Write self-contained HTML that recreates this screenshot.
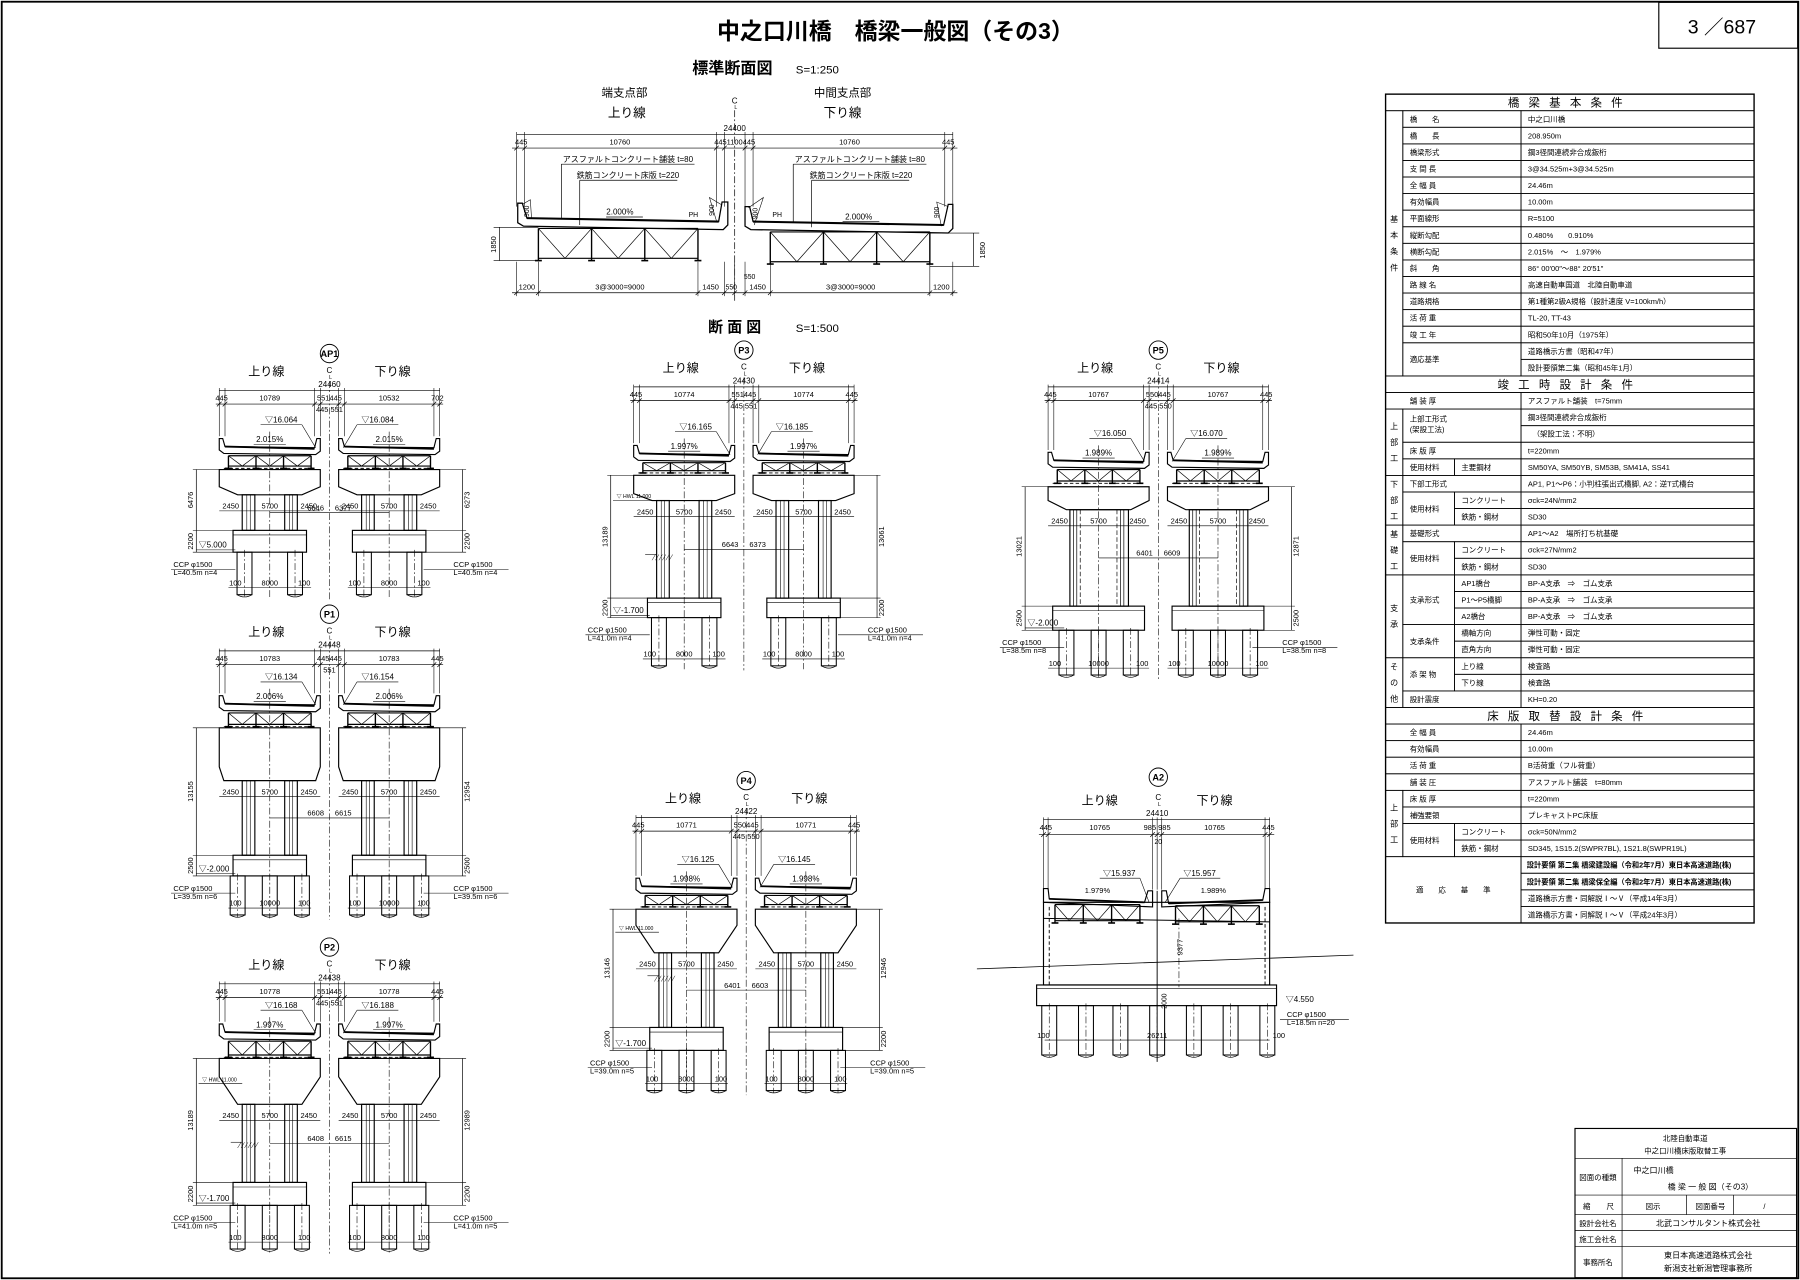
<!DOCTYPE html>
<html><head><meta charset="utf-8">
<style>
html,body{margin:0;padding:0;background:#fff;}
svg{display:block;}
text{font-family:"Liberation Sans","Noto Sans CJK JP",sans-serif;fill:#000;stroke:none;}
</style></head>
<body>
<svg id="s" xmlns="http://www.w3.org/2000/svg" width="1800" height="1280" viewBox="0 0 1568 1115" preserveAspectRatio="none"></svg>
<script>
var G=[],TX=[];
function L(a,b,c,d,w,dash){G.push('<line x1="'+a+'" y1="'+b+'" x2="'+c+'" y2="'+d+'" stroke-width="'+(w||0.6)+'"'+(dash?' stroke-dasharray="'+dash+'"':'')+'/>');}
function R(x,y,w,h,sw,fill){G.push('<rect x="'+x+'" y="'+y+'" width="'+w+'" height="'+h+'" fill="'+(fill||'none')+'" stroke-width="'+(sw||0.6)+'"/>');}
function P(d,sw,fill){G.push('<path d="'+d+'" fill="'+(fill||'none')+'" stroke-width="'+(sw||0.6)+'"/>');}
function C(x,y,r,sw){G.push('<circle cx="'+x+'" cy="'+y+'" r="'+r+'" fill="none" stroke-width="'+(sw||0.7)+'"/>');}
function T(x,y,s,sz,anc,ex){TX.push('<text x="'+x+'" y="'+y+'" font-size="'+(sz||6.5)+'" text-anchor="'+(anc||'middle')+'" '+(ex||'')+'>'+s+'</text>');}
function TV(x,y,s,sz){TX.push('<text x="'+x+'" y="'+y+'" font-size="'+(sz||6.5)+'" text-anchor="middle" transform="rotate(-90 '+x+' '+y+')">'+s+'</text>');}
var CL='6,2,1.5,2';

/* frame */
R(1.5,1.5,1565,1112,1.6);
R(1445,2,121,40,1);
T(1500,29,'3 ／687',17);
T(780,34,'中之口川橋　橋梁一般図（その3）',20,'middle','font-weight="bold"');

/* ===== standard section ===== */
T(638,64,'標準断面図',14,'middle','font-weight="bold"');T(712,64,'S=1:250',10);
T(544,84,'端支点部',10);T(546,102,'上り線',11);
T(734,84,'中間支点部',10);T(734,102,'下り線',11);
T(640,90,'C',7);T(641,95,'L',4.5);
L(640,96,640,262,0.6,CL);
L(450,117,830,117);T(640,114,'24400',7);
L(446,129,834,129);
[450,457,624,631,649,656,823,830].forEach(function(x){L(x,115,x,180,0.5);L(x-2,131,x+2,127,0.6);});
T(454,126,'445',6.5);T(540,126,'10760',6.5);T(640,126,'4451100445',6.5);T(740,126,'10760',6.5);T(826,126,'445',6.5);
P('M451,177 L451,194 L456,197 L630,200 L634,196 L634,176 L629,176 L626,193 L459,190 L455,177 Z',1.1);
L(459,190,626,193,1.8);
P('M649,180 L649,197 L654,200 L826,203 L830,199 L830,178 L826,178 L822,196 L656,193 L653,180 Z',1.1);
L(656,193,822,196,1.8);
function truss(x0,x1,y0,y1,n){L(x0,y0,x1,y0,1);L(x0,y1,x1,y1,1);var w=(x1-x0)/n;
 for(var i=0;i<=n;i++){var x=x0+i*w;L(x,y0,x,y1+2,1.2);L(x-3,y1+2,x+3,y1+2,1.4);}
 for(var i=0;i<n;i++){var a=x0+i*w,m=a+w/2,b=a+w;L(a,y0,m,y1,0.6);L(m,y1,b,y0,0.6);}}
truss(469,608,199,225,3);truss(671,810,202,228,3);
T(547,141,'アスファルトコンクリート舗装 t=80',7);L(489,143,605,143);L(489,143,489,191);
T(547,155,'鉄筋コンクリート床版 t=220',7);L(505,157,590,157);L(505,157,505,196);
T(749,141,'アスファルトコンクリート舗装 t=80',7);L(691,143,807,143);L(691,143,691,194);
T(750,155,'鉄筋コンクリート床版 t=220',7);L(707,157,792,157);L(707,157,707,198);
T(540,187,'2.000%',7);L(528,189,560,189);T(748,191,'2.000%',7);L(734,193,766,193);
T(604,189,'PH',6,'middle');T(677,189,'PH',6);
TV(461,184,'900',6);TV(622,183,'900',6);TV(660,186,'900',6);TV(818,185,'900',6);
P('M455,178 L462,174 L463,190',0.5);P('M628,178 L618,172 L624,192',0.5);P('M652,181 L665,172 L657,196',0.5);P('M826,180 L816,176 L820,197',0.5);
L(435,198,435,227);L(430,198,469,198,0.5);L(430,227,469,227,0.5);TV(432,213,'1850',6.5);
L(848,203,848,232);L(810,203,853,203,0.5);L(810,232,853,232,0.5);TV(858,218,'1850',6.5);
L(446,255,834,255);
[450,469,608,631,640,649,671,810,830].forEach(function(x){L(x,228,x,258,0.5);L(x-2,257,x+2,253,0.6);});
T(459,252,'1200',6.5);T(540,252,'3@3000=9000',6.5);T(619,252,'1450',6.5);T(637,252,'550',6);T(653,243,'550',6);T(660,252,'1450',6.5);T(741,252,'3@3000=9000',6.5);T(820,252,'1200',6.5);
T(640,289,'断 面 図',13,'middle','font-weight="bold"');T(712,289,'S=1:500',10);

/* ===== piers ===== */
function half(hc,s,p){
 var hw=p.hw||44,d=p.deckY;
 P('M'+(hc-hw)+','+d+' L'+(hc-hw)+','+(d+10)+' L'+(hc-hw+4)+','+(d+13)+' L'+(hc+hw-4)+','+(d+14)+' L'+(hc+hw)+','+(d+11)+' L'+(hc+hw)+','+d+' L'+(hc+hw-3)+','+d+' L'+(hc+hw-5)+','+(d+8)+' L'+(hc-hw+5)+','+(d+7)+' L'+(hc-hw+3)+','+d+' Z',1);
 L(hc-hw+5,d+7,hc+hw-5,d+9,1.6);
 truss(hc-hw+8,hc+hw-8,d+15,p.trussB-2,3);
 L(hc-hw+4,p.trussB,hc+hw-4,p.trussB,0.8,'3,2');
 var bw=p.capBW||28;
 P('M'+(hc-hw)+','+p.capTop+' L'+(hc+hw)+','+p.capTop+' L'+(hc+hw)+','+p.capV+' L'+(hc+bw)+','+p.capBot+' L'+(hc-bw)+','+p.capBot+' L'+(hc-hw)+','+p.capV+' Z',1);
 if(p.wide){R(hc-25,p.capBot,51,p.colBot-p.capBot,1);
   [-22,-19,-16,16,19,22].forEach(function(o){L(hc+o,p.capBot,hc+o,p.colBot,0.6,(Math.abs(o)==16?'4,2':''));});}
 else{[[-24,-13],[13,24]].forEach(function(c){R(hc+c[0],p.capBot,c[1]-c[0],p.colBot-p.capBot,1);L(hc+c[0]+4,p.capBot,hc+c[0]+4,p.colBot,0.5);L(hc+c[0]+7,p.capBot,hc+c[0]+7,p.colBot,0.5);});}
 var fw=p.fw||32;
 R(hc-fw,p.colBot,2*fw,p.footBot-p.colBot,1);L(hc-fw,p.colBot+4,hc+fw,p.colBot+4,0.5);
 var ps=p.n==3?[-28,0,28]:[-22,22];
 ps.forEach(function(o){var x=hc+o;R(x-6.5,p.footBot,13,p.pileBot-p.footBot,0.9);L(x,p.footBot-2,x,p.pileBot+2,0.5,CL);P('M'+(x-6.5)+','+p.pileBot+' Q'+x+','+(p.pileBot+4)+' '+(x+6.5)+','+p.pileBot,0.6);});
 L(hc,d-6,hc,p.pileBot+3,0.5,CL);
 var ex=s<0?hc+10:hc-10;
 T(ex,d-14,p.el[s<0?0:1],7);L(ex-18,d-12,ex+18,d-12,0.5);L(s<0?ex+18:ex-18,d-12,s<0?hc+hw-4:hc-hw+4,d+8,0.5);
 T(hc,d+3,p.sl,7);L(hc-14,d+5,hc+14,d+5,0.5);
 T(hc-hw+10,p.capBot+12,'2450',6.5);T(hc+hw-10,p.capBot+12,'2450',6.5);T(hc,p.capBot+12,'5700',6.5);
 L(hc-hw,p.capBot+14,hc+hw,p.capBot+14,0.5);
 T(hc,p.pileBot-8,p.bot||'8000',6.5);T(hc-fw+2,p.pileBot-8,'100',6.5);T(hc+fw-2,p.pileBot-8,'100',6.5);
 L(hc-fw-4,p.pileBot-6,hc+fw+4,p.pileBot-6,0.5);
}
function pier(p){
 var cx=p.cx,off=p.off||52,hw=p.hw||44,d=p.deckY,Lx=cx-off-hw,Rx=cx+off+hw,c0=p.circ;
 C(cx,c0,8,0.8);T(cx,c0+3,p.name,8,'middle','font-weight="bold"');
 T(cx-55,c0+19,'上り線',10.5);T(cx+55,c0+19,'下り線',10.5);
 T(cx,c0+17,'C',7);T(cx+1,c0+22,'L',4.5);
 L(Lx,c0+32,Rx,c0+32);T(cx,c0+29,p.tot,7);
 L(Lx-3,c0+44,Rx+3,c0+44);
 var tk=[Lx,Lx+5,cx-off+hw-5,cx-off+hw,cx+off-hw,cx+off-hw+5,Rx-5,Rx];
 tk.forEach(function(x){L(x,c0+30,x,d-2,0.5);L(x-2,c0+46,x+2,c0+42,0.6);});
 T(Lx+2,c0+41,p.seg[0],6.5);T(cx-off,c0+41,p.seg[1],6.5);T(cx,c0+41,p.seg[2],6.5);T(cx+off,c0+41,p.seg[3],6.5);T(Rx-2,c0+41,p.seg[4],6.5);
 T(cx,c0+51,p.sub||'445 551',6.5);
 L(cx,c0+24,cx,p.pileBot+4,0.5,CL);
 half(cx-off,-1,p);half(cx+off,1,p);
 var vl=Lx-20,vr=Rx+20;
 L(vl,p.capTop,vl,p.footBot);L(vl-3,p.capTop,cx-off-hw,p.capTop,0.5);L(vl-3,p.colBot,cx-off-32,p.colBot,0.5);L(vl-3,p.footBot,cx-off-32,p.footBot,0.5);
 TV(vl-3,(p.capTop+p.colBot)/2,p.vl,6.5);TV(vl-3,(p.colBot+p.footBot)/2,p.fh,6.5);
 L(vr,p.capTop,vr,p.footBot);L(cx+off+hw,p.capTop,vr+3,p.capTop,0.5);L(cx+off+32,p.colBot,vr+3,p.colBot,0.5);L(cx+off+32,p.footBot,vr+3,p.footBot,0.5);
 TV(vr+6,(p.capTop+p.colBot)/2,p.vr,6.5);TV(vr+6,(p.colBot+p.footBot)/2,p.fh,6.5);
 T(vl+2,p.footBot-4,'▽'+p.gl,7,'start');L(vl,p.footBot-2,cx-off-30,p.footBot-2,0.5);
 T(vl-20,p.footBot+13,'CCP φ1500',6.5,'start');T(vl-20,p.footBot+20,p.ccp,6.5,'start');L(vl-22,p.footBot+15,cx-off-30,p.footBot+15,0.5);
 T(vr-8,p.footBot+13,'CCP φ1500',6.5,'start');T(vr-8,p.footBot+20,p.ccp,6.5,'start');L(cx+off+30,p.footBot+15,vr+40,p.footBot+15,0.5);
 L(cx-off,(p.capBot+p.colBot)/2,cx+off,(p.capBot+p.colBot)/2,0.5);
 T(cx-12,(p.capBot+p.colBot)/2-2,p.m1,6.5);T(cx+12,(p.capBot+p.colBot)/2-2,p.m2,6.5);
 if(p.hwl){T(vl+5,p.capV+4,'▽ HWL 11.000',4.5,'start');L(vl+2,p.capV+6,cx-off-24,p.capV+6,0.5);}
 if(p.gr){L(vl+30,p.gr,cx-off-24,p.gr,0.5);for(var i=0;i<6;i++)L(vl+36+i*3,p.gr+5,vl+39+i*3,p.gr,0.4);}
}
var piers=[
{name:'AP1',cx:287,circ:308,deckY:382,trussB:408,capTop:409,capV:424,capBot:431,colBot:462,footBot:481,pileBot:518,n:2,tot:'24460',seg:['445','10789','551445','10532','702'],sub:'445 551',el:['▽16.064','▽16.084'],sl:'2.015%',vl:'6476',vr:'6273',fh:'2200',gl:'5.000',ccp:'L=40.5m n=4',m1:'6646',m2:'6377'},
{name:'P1',cx:287,circ:535,deckY:606,trussB:633,capTop:634,capV:668,capBot:680,colBot:745,footBot:763,pileBot:797,n:3,tot:'24448',seg:['445','10783','445445','10783','445'],sub:'551',el:['▽16.134','▽16.154'],sl:'2.006%',vl:'13155',vr:'12954',fh:'2500',gl:'-2.000',ccp:'L=39.5m n=6',m1:'6608',m2:'6615',bot:'10000',capBW:40},
{name:'P2',cx:287,circ:825,deckY:892,trussB:921,capTop:922,capV:938,capBot:962,colBot:1030,footBot:1050,pileBot:1088,n:3,tot:'24438',seg:['445','10778','551445','10778','445'],sub:'445 551',el:['▽16.168','▽16.188'],sl:'1.997%',vl:'13189',vr:'12989',fh:'2200',gl:'-1.700',ccp:'L=41.0m n=5',m1:'6408',m2:'6615',hwl:1,gr:995},
{name:'P3',cx:648,circ:305,deckY:388,trussB:412,capTop:414,capV:430,capBot:436,colBot:521,footBot:538,pileBot:580,n:2,tot:'24430',seg:['445','10774','551445','10774','445'],sub:'445 551',el:['▽16.165','▽16.185'],sl:'1.997%',vl:'13189',vr:'13061',fh:'2200',gl:'-1.700',ccp:'L=41.0m n=4',m1:'6643',m2:'6373',hwl:1,gr:483},
{name:'P4',cx:650,circ:680,deckY:765,trussB:790,capTop:792,capV:806,capBot:830,colBot:895,footBot:915,pileBot:950,n:3,tot:'24422',seg:['445','10771','550445','10771','445'],sub:'445 550',el:['▽16.125','▽16.145'],sl:'1.998%',vl:'13146',vr:'12946',fh:'2200',gl:'-1.700',ccp:'L=39.0m n=5',m1:'6401',m2:'6603',hwl:1,gr:850},
{name:'P5',cx:1009,circ:305,deckY:394,trussB:421,capTop:424,capV:436,capBot:444,colBot:528,footBot:549,pileBot:588,n:3,tot:'24414',seg:['445','10767','550445','10767','445'],sub:'445 550',el:['▽16.050','▽16.070'],sl:'1.989%',vl:'13021',vr:'12871',fh:'2500',gl:'-2.000',ccp:'L=38.5m n=8',m1:'6401',m2:'6609',bot:'10000',wide:1,fw:40,capBW:28}
];
piers.forEach(pier);

/* ===== A2 abutment ===== */
C(1009,677,8,0.8);T(1009,680,'A2',8,'middle','font-weight="bold"');
T(958,701,'上り線',10.5);T(1058,701,'下り線',10.5);T(1009,697,'C',7);T(1010,702,'L',4.5);
L(909,714,1106,714);T(1008,711,'24410',7);L(905,727,1110,727);
[909,913,1004,1008,1012,1102,1106].forEach(function(x){L(x,712,x,775,0.5);L(x-2,729,x+2,725,0.6);});
T(911,723,'445',6.5);T(958,723,'10765',6.5);T(1008,723,'985 985',6.5);T(1058,723,'10765',6.5);T(1105,723,'445',6.5);T(1009,735,'20',6);
P('M909,774 L909,786 L1004,790 L1004,776 L1000,776 L997,786 L914,783 L913,774 Z',1);L(914,783,997,786,1.6);
P('M1012,776 L1012,790 L1106,786 L1106,774 L1102,774 L1100,784 L1018,787 L1016,776 Z',1);L(1018,787,1100,784,1.6);
truss(919,993,788,802,3);truss(1024,1097,789,803,3);
L(909,800,1106,803,0.9);
R(909,786,197,72,1);L(1008,776,1008,925,0.8);
L(914,790,914,858,0.8,'3,2');L(1102,790,1102,858,0.8,'3,2');L(1027,800,1027,860,0.5,CL);
T(975,763,'▽15.937',7);L(958,765,993,765,0.5);L(993,765,1001,786,0.5);
T(1045,763,'▽15.957',7);L(1028,765,1063,765,0.5);L(1028,765,1015,786,0.5);
T(956,778,'1.979%',6.5);T(1057,778,'1.989%',6.5);
TV(1030,825,'9377',6.5);
L(851,844,1179,832,0.7);
R(903,858,209,18,1);L(903,861,1112,861,0.5);
[914,946,976,1008,1040,1072,1104].forEach(function(x){R(x-6.5,876,13,43,0.9);L(x,874,x,921,0.5,CL);P('M'+(x-6.5)+',919 Q'+x+',923 '+(x+6.5)+',919',0.6);});
T(1120,873,'▽4.550',7,'start');T(1121,886,'CCP φ1500',6.5,'start');T(1121,893,'L=18.5m n=20',6.5,'start');L(1115,888,1175,888,0.5);
L(910,906,1106,906,0.5);T(1008,904,'26211',6.5);T(909,904,'100',6.5);T(1114,904,'100',6.5);
TV(1016,872,'2000',6);

/* ===== table ===== */
var a=1207,b=1222,c=1267,d=1325,e=1528,RT=82,RH=14.44;
function ry(i){return RT+(i-1)*RH;}
function cell(x1,x2,r1,r2,txt,opt){R(x1,ry(r1),x2-x1,RH*(r2-r1+1),0.7);
 if(txt!==undefined&&txt!==''){var y=ry(r1)+RH*(r2-r1+1)/2+2.4;
  if(opt=='c')T((x1+x2)/2,y,txt,6.5);else if(opt=='h')T((x1+x2)/2,y+1.2,txt,10,'middle','letter-spacing="8"');else if(opt=='b')T(x1+5,y,txt,6.3,'start','font-weight="bold"');else T(x1+(opt||6),y,txt,6.5,'start');}}
function vcat(r1,r2,chars){cell(a,b,r1,r2);var n=chars.length,h=RH*(r2-r1+1),y0=ry(r1)+h/2-(n-1)*7;for(var i=0;i<n;i++)T((a+b)/2,y0+i*14+2.5,chars[i],7);}
R(a,RT,e-a,RH*50,1.2);
cell(a,e,1,1,'橋梁基本条件','h');
vcat(2,17,'基本条件');
var s1=[['橋　　名','中之口川橋'],['橋　　長','208.950m'],['橋梁形式','鋼3径間連続非合成鈑桁'],['支 間 長','3@34.525m+3@34.525m'],['全 幅 員','24.46m'],['有効幅員','10.00m'],['平面線形','R=5100'],['縦断勾配','0.480%　　0.910%'],['横断勾配','2.015%　～　1.979%'],['斜　　角','86° 00′00″～88° 20′51″'],['路 線 名','高速自動車国道　北陸自動車道'],['道路規格','第1種第2級A規格（設計速度 V=100km/h）'],['活 荷 重','TL-20, TT-43'],['竣 工 年','昭和50年10月（1975年）']];
s1.forEach(function(r,i){cell(b,d,i+2,i+2,r[0]);cell(d,e,i+2,i+2,r[1]);});
cell(b,d,16,17,'適応基準');cell(d,e,16,16,'道路橋示方書（昭和47年）');cell(d,e,17,17,'設計要領第二集（昭和45年1月）');
cell(a,e,18,18,'竣工時設計条件','h');
cell(a,d,19,19,'舗 装 厚',21);cell(d,e,19,19,'アスファルト舗装　t=75mm');
vcat(20,23,'上部工');
R(b,ry(20),d-b,RH*2,0.7);T(b+6,ry(20)+11,'上部工形式',6.5,'start');T(b+6,ry(20)+20,'(架設工法)',6.5,'start');
cell(d,e,20,20,'鋼3径間連続非合成鈑桁');cell(d,e,21,21,'（架設工法：不明）',10);
cell(b,d,22,22,'床 版 厚');cell(d,e,22,22,'t=220mm');
cell(b,c,23,23,'使用材料');cell(c,d,23,23,'主要鋼材');cell(d,e,23,23,'SM50YA, SM50YB, SM53B, SM41A, SS41');
vcat(24,26,'下部工');
cell(b,d,24,24,'下部工形式');cell(d,e,24,24,'AP1, P1～P6：小判柱張出式橋脚, A2：逆T式橋台');
cell(b,c,25,26,'使用材料');cell(c,d,25,25,'コンクリート');cell(c,d,26,26,'鉄筋・鋼材');cell(d,e,25,25,'σck=24N/mm2');cell(d,e,26,26,'SD30');
vcat(27,29,'基礎工');
cell(b,d,27,27,'基礎形式');cell(d,e,27,27,'AP1～A2　場所打ち杭基礎');
cell(b,c,28,29,'使用材料');cell(c,d,28,28,'コンクリート');cell(c,d,29,29,'鉄筋・鋼材');cell(d,e,28,28,'σck=27N/mm2');cell(d,e,29,29,'SD30');
vcat(30,34,'支承');
cell(b,c,30,32,'支承形式');cell(c,d,30,30,'AP1橋台');cell(c,d,31,31,'P1～P5橋脚');cell(c,d,32,32,'A2橋台');
[30,31,32].forEach(function(r){cell(d,e,r,r,'BP-A支承　⇒　ゴム支承');});
cell(b,c,33,34,'支承条件');cell(c,d,33,33,'橋軸方向');cell(c,d,34,34,'直角方向');cell(d,e,33,33,'弾性可動・固定');cell(d,e,34,34,'弾性可動・固定');
vcat(35,37,'その他');
cell(b,c,35,36,'添 架 物');cell(c,d,35,35,'上り線');cell(c,d,36,36,'下り線');cell(d,e,35,35,'検査路');cell(d,e,36,36,'検査路');
cell(b,d,37,37,'設計震度');cell(d,e,37,37,'KH=0.20');
cell(a,e,38,38,'床版取替設計条件','h');
[['全 幅 員','24.46m'],['有効幅員','10.00m'],['活 荷 重','B活荷重（フル荷重）'],['舗 装 圧','アスファルト舗装　t=80mm']].forEach(function(r,i){cell(a,d,39+i,39+i,r[0],21);cell(d,e,39+i,39+i,r[1]);});
vcat(43,46,'上部工');
cell(b,d,43,43,'床 版 厚');cell(d,e,43,43,'t=220mm');
cell(b,d,44,44,'補強要領');cell(d,e,44,44,'プレキャストPC床版');
cell(b,c,45,46,'使用材料');cell(c,d,45,45,'コンクリート');cell(c,d,46,46,'鉄筋・鋼材');cell(d,e,45,45,'σck=50N/mm2');cell(d,e,46,46,'SD345, 1S15.2(SWPR7BL), 1S21.8(SWPR19L)');
cell(a,d,47,50,'適　　応　　基　　準','c');
cell(d,e,47,47,'設計要領 第二集 橋梁建設編（令和2年7月）東日本高速道路(株)','b');
cell(d,e,48,48,'設計要領 第二集 橋梁保全編（令和2年7月）東日本高速道路(株)','b');
cell(d,e,49,49,'道路橋示方書・同解説Ⅰ～Ⅴ（平成14年3月）');
cell(d,e,50,50,'道路橋示方書・同解説Ⅰ～Ⅴ（平成24年3月）');

/* ===== title block ===== */
var tx0=1372,tx1=1413,tx2=1565;
R(tx0,983,tx2-tx0,130,1);
L(tx0,1009,tx2,1009);L(tx0,1041,tx2,1041);L(tx0,1058,tx2,1058);L(tx0,1072,tx2,1072);L(tx0,1086,tx2,1086);
L(tx1,1009,tx1,1113);L(1469,1041,1469,1058);L(1510,1041,1510,1058);
T(1468,994,'北陸自動車道',6.5);T(1468,1005,'中之口川橋床版取替工事',6.5);
T(1392,1028,'図面の種類',6.5);T(1423,1022,'中之口川橋',7,'start');T(1490,1036,'橋 梁 一 般 図（その3）',7);
T(1379,1053,'縮',6.5,'start');T(1406,1053,'尺',6.5,'end');T(1440,1053,'図示',6.5);T(1490,1053,'図面番号',6.5);T(1537,1053,'/',6.5);
T(1392,1068,'設計会社名',6.5);T(1488,1068,'北武コンサルタント株式会社',7);
T(1392,1082,'施工会社名',6.5);
T(1392,1102,'事務所名',6.5);T(1488,1096,'東日本高速道路株式会社',7);T(1488,1107,'新潟支社新潟管理事務所',7);

document.getElementById('s').innerHTML='<g stroke="#000" fill="none" stroke-linecap="butt">'+G.join('')+'</g><g>'+TX.join('')+'</g>';
</script>
</body></html>
